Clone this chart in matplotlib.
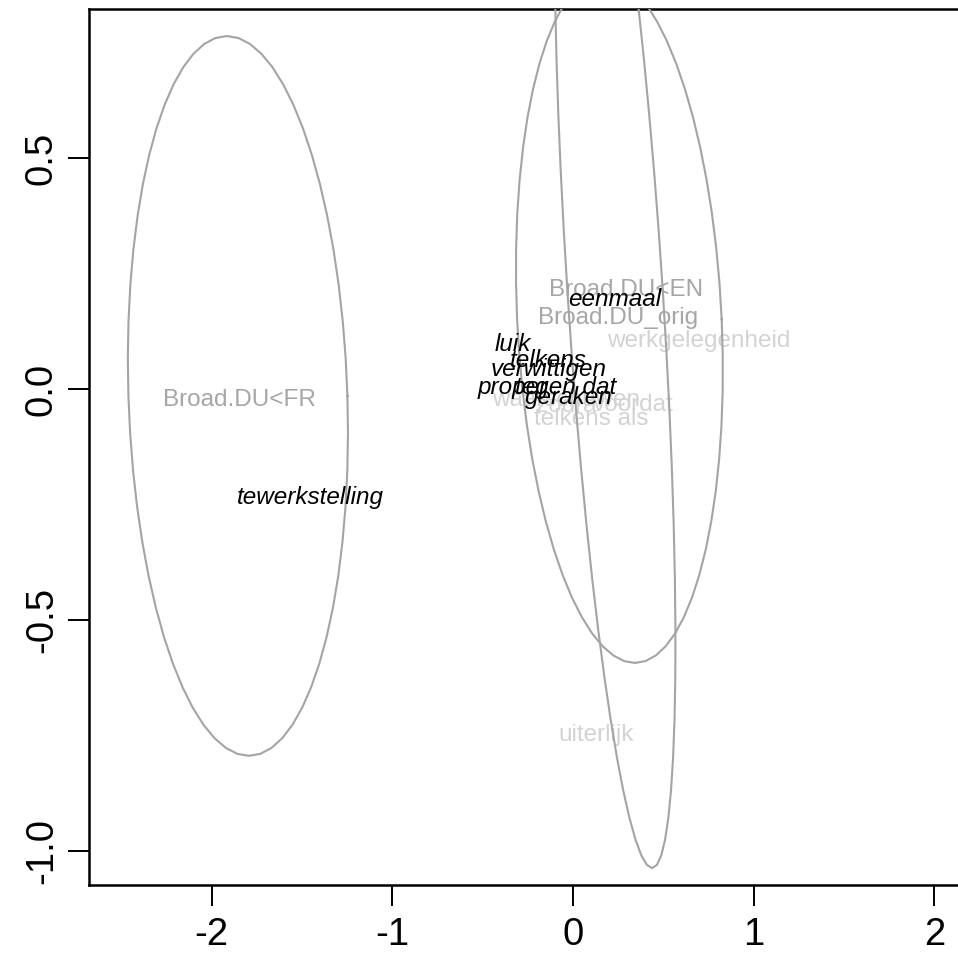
import numpy as np
import matplotlib
matplotlib.use("Agg")
import matplotlib.pyplot as plt

plt.rcParams['font.family'] = ['Liberation Sans', 'DejaVu Sans']

# Group ellipses: centre, horizontal/tilt components and vertical radius
ell_names = ["Broad.DU<FR", "Broad.DU_orig", "Broad.DU<EN"]
ell_cx = [-1.854, 0.257, 0.233]
ell_cy = [-0.015, 0.151, 0.213]
ell_a = [0.606, 0.566, 0.264]
ell_b = [-0.061, -0.086, -0.205]
ell_c = [0.779, 0.744, 1.25]

# Group labels
group_labels = ["Broad.DU<FR", "Broad.DU<EN", "Broad.DU_orig"]
group_x = [-1.843, 0.296, 0.249]
group_y = [-0.024, 0.214, 0.154]

# Netherlandic variants (light grey)
nl_words = ["werkgelegenheid", "uiterlijk", "telkens als", "waarschuwen", "zodra", "voordat"]
nl_x = [0.697, 0.127, 0.100, -0.039, -0.039, 0.332]
nl_y = [0.104, -0.749, -0.065, -0.024, -0.037, -0.035]

# Belgian variants (black italic)
be_words = ["eenmaal", "luik", "telkens", "verwittigen", "proper", "tegen dat", "geraken", "tewerkstelling"]
be_x = [0.230, -0.332, -0.138, -0.136, -0.332, -0.039, -0.022, -1.455]
be_y = [0.193, 0.097, 0.061, 0.043, 0.004, 0.004, -0.019, -0.234]

xticks = [-2, -1, 0, 1, 2]
yticks = [-1.0, -0.5, 0.0, 0.5]

fig = plt.figure(figsize=(9.58, 9.68), dpi=100)
ax = fig.add_axes([89 / 958, 83 / 968, 899.6 / 958, 876 / 968])
ax.set_xlim(-2.678, 2.3)
ax.set_ylim(-1.0736, 0.8225)

t = np.linspace(0, 2 * np.pi, 61)
for cx, cy, a, b, c in zip(ell_cx, ell_cy, ell_a, ell_b, ell_c):
    ex = cx + a * np.cos(t) + b * np.sin(t)
    ey = cy + c * np.sin(t)
    ax.plot(ex, ey, color="#a4a4a4", lw=1.5, zorder=3)

for s, x, y in zip(group_labels, group_x, group_y):
    ax.text(x, y, s, color="#a6a6a6", fontsize=17.5, ha="center", va="center", zorder=2)
for s, x, y in zip(nl_words, nl_x, nl_y):
    ax.text(x, y, s, color="#d3d3d3", fontsize=17.5, ha="center", va="center", zorder=2)
for s, x, y in zip(be_words, be_x, be_y):
    ax.text(x, y, s, color="black", fontsize=17.5, style="italic", ha="center", va="center", zorder=4)

ax.set_xticks(xticks)
ax.set_xticklabels([f"{v:g}" for v in xticks])
ax.set_yticks(yticks)
ax.set_yticklabels([f"{v:.1f}" for v in yticks], rotation=90, va="center")
ax.tick_params(axis="both", direction="out", length=15, width=1.4, labelsize=27.5)
ax.tick_params(axis="x", pad=8)
ax.tick_params(axis="y", pad=6)
for sp in ax.spines.values():
    sp.set_linewidth(1.8)
    sp.set_color("black")

fig.savefig("out.png", dpi=100)
